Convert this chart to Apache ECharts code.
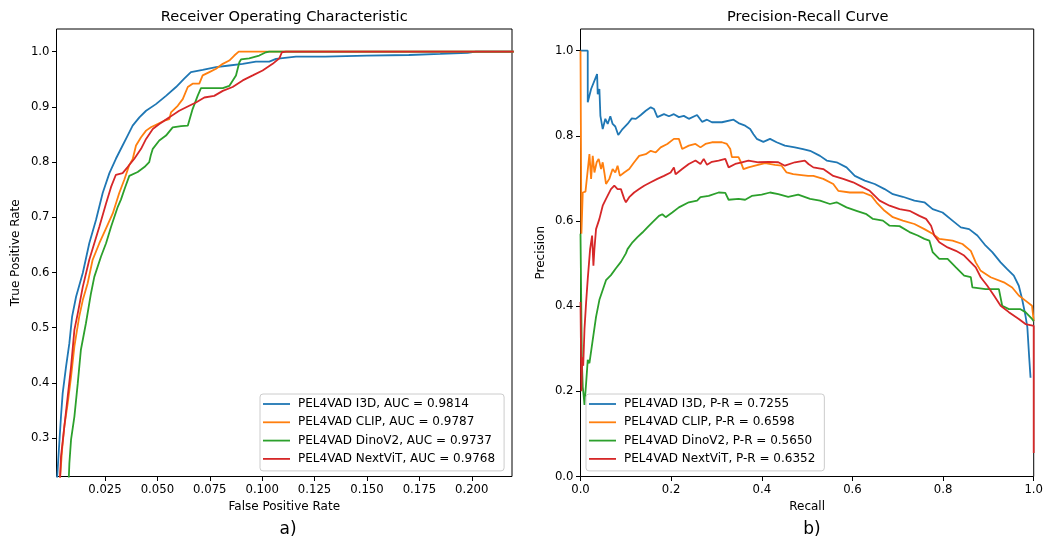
<!DOCTYPE html>
<html>
<head>
<meta charset="utf-8">
<script src="https://cdn.jsdelivr.net/npm/echarts/dist/echarts.min.js"></script>
<style>
  html, body { margin: 0; padding: 0; background: #ffffff; }
  #chart { width: 1046px; height: 545px; }
</style>
</head>
<body>
<div id="chart"></div>
<script>
// ROC curves: [false positive rate, true positive rate]
const rocI3D = [[0.0020,0.220],[0.0024,0.242],[0.0032,0.291],[0.0040,0.339],[0.0048,0.381],[0.0064,0.429],[0.0080,0.472],[0.0093,0.520],[0.0112,0.556],[0.0144,0.599],[0.0175,0.653],[0.0207,0.695],[0.0239,0.744],[0.0271,0.780],[0.0302,0.806],[0.0334,0.830],[0.0358,0.848],[0.0382,0.866],[0.0414,0.881],[0.0446,0.893],[0.0493,0.905],[0.0541,0.920],[0.0589,0.936],[0.0628,0.951],[0.0660,0.963],[0.0716,0.967],[0.0780,0.972],[0.0843,0.975],[0.0907,0.978],[0.0970,0.982],[0.1034,0.982],[0.1066,0.987],[0.1161,0.991],[0.1300,0.991],[0.1500,0.993],[0.1700,0.994],[0.1850,0.996],[0.1980,0.998],[0.2020,1.0],[0.2200,1.0]];
const rocCLIP = [[0.0030,0.210],[0.0035,0.224],[0.0045,0.278],[0.0056,0.321],[0.0072,0.363],[0.0088,0.411],[0.0104,0.466],[0.0127,0.520],[0.0144,0.550],[0.0167,0.580],[0.0191,0.623],[0.0223,0.653],[0.0255,0.680],[0.0287,0.707],[0.0318,0.744],[0.0342,0.768],[0.0366,0.795],[0.0382,0.805],[0.0398,0.830],[0.0422,0.845],[0.0446,0.857],[0.0469,0.863],[0.0501,0.869],[0.0533,0.875],[0.0557,0.878],[0.0565,0.890],[0.0597,0.902],[0.0621,0.914],[0.0645,0.936],[0.0668,0.942],[0.0700,0.942],[0.0716,0.957],[0.0748,0.963],[0.0780,0.969],[0.0812,0.978],[0.0843,0.984],[0.0867,0.993],[0.0888,1.0],[0.2200,1.0]];
const rocDinoV2 = [[0.0075,0.210],[0.0077,0.224],[0.0080,0.254],[0.0088,0.297],[0.0104,0.339],[0.0120,0.399],[0.0135,0.460],[0.0159,0.508],[0.0183,0.562],[0.0199,0.592],[0.0231,0.629],[0.0255,0.653],[0.0279,0.683],[0.0311,0.719],[0.0326,0.732],[0.0345,0.753],[0.0366,0.775],[0.0406,0.782],[0.0438,0.791],[0.0461,0.800],[0.0469,0.813],[0.0478,0.824],[0.0509,0.839],[0.0541,0.848],[0.0573,0.863],[0.0613,0.865],[0.0645,0.866],[0.0668,0.896],[0.0692,0.920],[0.0708,0.934],[0.0812,0.934],[0.0843,0.938],[0.0875,0.957],[0.0891,0.981],[0.0899,0.986],[0.0938,0.988],[0.0986,0.993],[0.1018,0.999],[0.1034,1.0],[0.2200,1.0]];
const rocNextViT = [[0.0032,0.210],[0.0035,0.224],[0.0040,0.266],[0.0056,0.321],[0.0072,0.375],[0.0088,0.429],[0.0104,0.496],[0.0120,0.526],[0.0144,0.574],[0.0175,0.623],[0.0199,0.653],[0.0223,0.683],[0.0255,0.725],[0.0279,0.755],[0.0302,0.777],[0.0334,0.780],[0.0358,0.791],[0.0390,0.806],[0.0422,0.824],[0.0446,0.842],[0.0478,0.860],[0.0509,0.869],[0.0557,0.881],[0.0604,0.893],[0.0652,0.902],[0.0684,0.908],[0.0724,0.917],[0.0771,0.920],[0.0812,0.929],[0.0859,0.936],[0.0907,0.948],[0.0955,0.957],[0.1002,0.966],[0.1050,0.978],[0.1082,0.988],[0.1094,0.999],[0.1114,1.0],[0.2200,1.0]];

// Precision-recall curves: [recall, precision]
const prI3D = [[0.0,1.0],[0.016,1.0],[0.016,0.879],[0.0234,0.910],[0.0366,0.945],[0.038,0.898],[0.0417,0.910],[0.0439,0.847],[0.049,0.816],[0.0548,0.840],[0.060,0.828],[0.0658,0.846],[0.0709,0.828],[0.0768,0.822],[0.0833,0.802],[0.0928,0.816],[0.1038,0.828],[0.1133,0.841],[0.1221,0.840],[0.1331,0.849],[0.1440,0.859],[0.155,0.867],[0.1623,0.863],[0.166,0.867],[0.1696,0.844],[0.1842,0.851],[0.1952,0.846],[0.2061,0.851],[0.2171,0.844],[0.228,0.847],[0.239,0.840],[0.2572,0.849],[0.2682,0.833],[0.2792,0.838],[0.290,0.832],[0.312,0.832],[0.3377,0.838],[0.3487,0.830],[0.3633,0.824],[0.3743,0.816],[0.3816,0.804],[0.3889,0.793],[0.4035,0.786],[0.4182,0.793],[0.4327,0.785],[0.451,0.777],[0.473,0.773],[0.491,0.769],[0.5066,0.765],[0.5285,0.753],[0.5432,0.742],[0.5651,0.738],[0.587,0.726],[0.6053,0.706],[0.6272,0.695],[0.6491,0.687],[0.671,0.675],[0.6893,0.663],[0.7112,0.657],[0.7368,0.648],[0.7588,0.644],[0.777,0.628],[0.7989,0.620],[0.8208,0.601],[0.8392,0.585],[0.8575,0.581],[0.8757,0.566],[0.894,0.542],[0.9086,0.527],[0.927,0.503],[0.9415,0.487],[0.9561,0.472],[0.9671,0.448],[0.9744,0.417],[0.9818,0.378],[0.986,0.350],[0.990,0.280],[0.993,0.232]];
const prCLIP = [[0.0,1.0],[0.002,1.0],[0.002,0.570],[0.004,0.570],[0.005,0.667],[0.011,0.669],[0.0197,0.757],[0.0234,0.699],[0.027,0.753],[0.0307,0.714],[0.0357,0.738],[0.0401,0.746],[0.0454,0.722],[0.049,0.738],[0.0526,0.714],[0.0563,0.687],[0.0636,0.699],[0.0709,0.722],[0.0768,0.714],[0.0818,0.730],[0.087,0.706],[0.0965,0.714],[0.1075,0.722],[0.1184,0.738],[0.1294,0.753],[0.144,0.757],[0.155,0.765],[0.166,0.761],[0.1769,0.773],[0.1915,0.781],[0.2061,0.793],[0.2171,0.793],[0.2243,0.769],[0.239,0.777],[0.2537,0.781],[0.2647,0.773],[0.2757,0.781],[0.290,0.785],[0.312,0.785],[0.323,0.781],[0.3305,0.769],[0.334,0.750],[0.3487,0.750],[0.3524,0.742],[0.3596,0.722],[0.3706,0.726],[0.3853,0.730],[0.4072,0.736],[0.4292,0.732],[0.4437,0.730],[0.4547,0.714],[0.4693,0.710],[0.4875,0.708],[0.5022,0.706],[0.5138,0.706],[0.5357,0.699],[0.5577,0.687],[0.5687,0.671],[0.5943,0.667],[0.6235,0.667],[0.6419,0.659],[0.6529,0.644],[0.671,0.624],[0.6893,0.609],[0.7112,0.601],[0.7368,0.593],[0.7588,0.581],[0.777,0.570],[0.7917,0.558],[0.821,0.554],[0.8428,0.546],[0.8612,0.530],[0.8721,0.503],[0.8831,0.483],[0.905,0.468],[0.9342,0.456],[0.9525,0.444],[0.9671,0.425],[0.9818,0.413],[0.9963,0.401],[1.0,0.365]];
const prDinoV2 = [[0.0,0.570],[0.002,0.570],[0.003,0.270],[0.005,0.210],[0.007,0.190],[0.0088,0.168],[0.0124,0.219],[0.016,0.274],[0.0197,0.266],[0.027,0.321],[0.0343,0.375],[0.0417,0.415],[0.049,0.438],[0.0563,0.461],[0.0672,0.473],[0.0782,0.489],[0.0892,0.504],[0.1002,0.524],[0.1038,0.534],[0.1147,0.550],[0.1257,0.562],[0.1366,0.573],[0.1476,0.585],[0.1586,0.597],[0.1732,0.612],[0.1805,0.616],[0.1879,0.609],[0.2024,0.620],[0.2171,0.632],[0.239,0.644],[0.2573,0.648],[0.2647,0.656],[0.2829,0.659],[0.3048,0.667],[0.3195,0.666],[0.3268,0.650],[0.3487,0.652],[0.3633,0.650],[0.3779,0.659],[0.3998,0.662],[0.4182,0.667],[0.4364,0.663],[0.4583,0.657],[0.4803,0.662],[0.5066,0.652],[0.5285,0.648],[0.5504,0.640],[0.5651,0.644],[0.587,0.632],[0.609,0.624],[0.631,0.616],[0.6454,0.605],[0.6673,0.601],[0.682,0.589],[0.704,0.588],[0.7259,0.574],[0.7441,0.566],[0.7588,0.558],[0.7697,0.554],[0.777,0.527],[0.7917,0.511],[0.81,0.511],[0.8283,0.491],[0.8465,0.472],[0.8612,0.468],[0.8647,0.444],[0.894,0.440],[0.9232,0.440],[0.9305,0.401],[0.9452,0.393],[0.9708,0.393],[0.9818,0.386],[0.9963,0.370],[1.0,0.365]];
const prNextViT = [[0.0,0.410],[0.002,0.200],[0.004,0.280],[0.006,0.260],[0.0088,0.346],[0.0124,0.409],[0.016,0.464],[0.0212,0.534],[0.0256,0.566],[0.0285,0.495],[0.0307,0.534],[0.0343,0.581],[0.0417,0.605],[0.049,0.636],[0.0563,0.652],[0.0672,0.675],[0.0746,0.683],[0.0818,0.675],[0.0892,0.675],[0.0965,0.652],[0.1002,0.644],[0.1075,0.656],[0.1184,0.667],[0.1294,0.675],[0.1404,0.683],[0.155,0.691],[0.1696,0.699],[0.1842,0.706],[0.1989,0.714],[0.2061,0.726],[0.2098,0.710],[0.2243,0.722],[0.239,0.734],[0.2537,0.742],[0.2647,0.734],[0.2719,0.746],[0.2792,0.732],[0.290,0.739],[0.3048,0.742],[0.3195,0.746],[0.3268,0.726],[0.3414,0.734],[0.356,0.738],[0.3706,0.742],[0.3925,0.738],[0.4145,0.739],[0.4364,0.738],[0.451,0.730],[0.473,0.738],[0.495,0.742],[0.5029,0.734],[0.5138,0.726],[0.5357,0.722],[0.5577,0.706],[0.5796,0.699],[0.6015,0.691],[0.6235,0.679],[0.6382,0.671],[0.660,0.648],[0.682,0.636],[0.704,0.628],[0.7259,0.624],[0.7478,0.612],[0.7625,0.605],[0.7735,0.589],[0.7807,0.566],[0.7917,0.550],[0.81,0.538],[0.8283,0.530],[0.8465,0.519],[0.8612,0.503],[0.8721,0.491],[0.8831,0.468],[0.8976,0.448],[0.9123,0.425],[0.927,0.401],[0.9452,0.386],[0.9671,0.370],[0.9818,0.358],[1.0,0.354],[1.0,0.055]];

// Legend entries
const rocLabels = ['PEL4VAD I3D, AUC = 0.9814', 'PEL4VAD CLIP, AUC = 0.9787', 'PEL4VAD DinoV2, AUC = 0.9737', 'PEL4VAD NextViT, AUC = 0.9768'];
const prLabels = ['PEL4VAD I3D, P-R = 0.7255', 'PEL4VAD CLIP, P-R = 0.6598', 'PEL4VAD DinoV2, P-R = 0.5650', 'PEL4VAD NextViT, P-R = 0.6352'];

// Tick positions
const rocXTicks = [0.025, 0.05, 0.075, 0.1, 0.125, 0.15, 0.175, 0.2];
const rocYTicks = [0.3, 0.4, 0.5, 0.6, 0.7, 0.8, 0.9, 1.0];
const prTicks = [0.0, 0.2, 0.4, 0.6, 0.8, 1.0];

const COLORS = ['#1f77b4', '#ff7f0e', '#2ca02c', '#d62728'];
const FONT = 'DejaVu Sans';

function axis(gridIndex, min, max, ticks, digits, name, nameGap) {
  return {
    type: 'value', gridIndex, min, max,
    name, nameLocation: 'middle', nameGap,
    nameTextStyle: { fontFamily: FONT, fontSize: 12, color: '#000' },
    axisLine: { show: false },
    splitLine: { show: false },
    axisTick: { show: true, inside: false, length: 4.5, customValues: ticks, lineStyle: { color: '#000', width: 1 } },
    axisLabel: { customValues: ticks, formatter: v => Number(v).toFixed(digits), fontFamily: FONT, fontSize: 11.7, color: '#000', margin: 7 }
  };
}

// Legend with plain line handles
function legend(left, labels) {
  return {
    data: labels, orient: 'vertical', left, top: 394,
    icon: 'rect', itemWidth: 27, itemHeight: 1.8, itemGap: 4.3,
    padding: [3, 9, 5, 3],
    backgroundColor: 'rgba(255,255,255,0.8)',
    borderColor: '#cccccc', borderWidth: 1, borderRadius: 3,
    textStyle: { fontFamily: FONT, fontSize: 12, color: '#000', lineHeight: 14, padding: [0, 0, 0, 3] }
  };
}

function lines(datasets, labels, xi) {
  return datasets.map((d, i) => ({
    type: 'line', name: labels[i], xAxisIndex: xi, yAxisIndex: xi,
    data: d, symbol: 'none', showSymbol: false, clip: true,
    color: COLORS[i],
    lineStyle: { color: COLORS[i], width: 1.8 },
    emphasis: { disabled: true }
  }));
}

const chart = echarts.init(document.getElementById('chart'), null, { renderer: 'canvas' });
chart.setOption({
  animation: false,
  backgroundColor: '#ffffff',
  grid: [
    { left: 56.5, top: 29, width: 455.5, height: 447.5, show: true, borderColor: '#000', borderWidth: 1, backgroundColor: '#fff' },
    { left: 580.5, top: 29, width: 454.5, height: 447.5, show: true, borderColor: '#000', borderWidth: 1, backgroundColor: '#fff' }
  ],
  xAxis: [
    axis(0, 0.00186, 0.2192, rocXTicks, 3, 'False Positive Rate', 24),
    axis(1, 0, 1, prTicks, 1, 'Recall', 24)
  ],
  yAxis: [
    axis(0, 0.2304, 1.0411, rocYTicks, 1, 'True Positive Rate', 34.5),
    axis(1, 0, 1.051, prTicks, 1, 'Precision', 33.5)
  ],
  legend: [legend(260, rocLabels), legend(586, prLabels)],
  graphic: [
    { type: 'text', x: 284.25, y: 17, style: { text: 'Receiver Operating Characteristic', font: '14.6px "DejaVu Sans"', fill: '#000', align: 'center', verticalAlign: 'middle' } },
    { type: 'text', x: 807.75, y: 17, style: { text: 'Precision-Recall Curve', font: '14.6px "DejaVu Sans"', fill: '#000', align: 'center', verticalAlign: 'middle' } },
    { type: 'text', x: 288, y: 530, style: { text: 'a)', font: '17px "DejaVu Sans"', fill: '#000', align: 'center', verticalAlign: 'middle' } },
    { type: 'text', x: 812, y: 530, style: { text: 'b)', font: '17px "DejaVu Sans"', fill: '#000', align: 'center', verticalAlign: 'middle' } }
  ],
  series: [
    ...lines([rocI3D, rocCLIP, rocDinoV2, rocNextViT], rocLabels, 0),
    ...lines([prI3D, prCLIP, prDinoV2, prNextViT], prLabels, 1)
  ]
});
</script>
</body>
</html>
